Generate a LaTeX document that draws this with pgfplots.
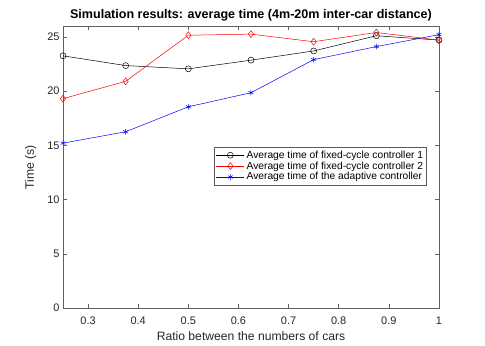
\documentclass[border=0pt]{standalone}
\usepackage{pgfplots}
\pgfplotsset{compat=1.18}
\usepackage{fontspec}
\setmainfont{Liberation Sans}
\definecolor{axgray}{RGB}{38,38,38}
\definecolor{mred}{RGB}{255,0,0}
\definecolor{mblue}{RGB}{0,0,255}
\begin{document}
\begin{tikzpicture}
\begin{axis}[
  scale only axis,width=376bp,height=282bp,
  xmin=0.25,xmax=1,ymin=0,ymax=26,
  xtick={0.3,0.4,...,0.9,1},
  xticklabels={0.3,0.4,0.5,0.6,0.7,0.8,0.9,1},
  ytick={0,5,...,25},
  tick align=inside,
  major tick length=4bp,
  axis line style={gray!75!black,line width=0.6pt},
  every tick/.style={gray!75!black,line width=0.5pt},
  tick label style={font=\fontsize{11}{13}\selectfont,text=axgray},
  xticklabel style={yshift=-5bp},
  /pgf/number format/assume math mode=true,
  xlabel={Ratio between the numbers of cars},
  ylabel={Time (s)},
  label style={font=\fontsize{12.2}{14}\selectfont,text=axgray},
  xlabel style={yshift=-1bp},
  ylabel style={yshift=4bp},
  title={\textbf{Simulation results: average time (4m-20m inter-car distance)}},
  title style={font=\fontsize{12.6}{14}\selectfont,yshift=-5bp},
  legend style={at={(0.968,0.571)},anchor=north east,draw=gray!70!black,
    font=\fontsize{10.3}{11.5}\selectfont,text=black,row sep=-2bp,
    inner sep=1.5bp,line width=0.5pt},
  legend cell align=left,
  legend image code/.code={%
    \draw[mark repeat=2,mark phase=2] plot coordinates {(0bp,0bp) (14bp,0bp) (28bp,0bp)};},
]
\addplot[black,line width=0.5pt,mark=o,mark size=3bp,mark options={solid}] coordinates {
  (0.25,23.25) (0.375,22.35) (0.5,22.05) (0.625,22.85) (0.75,23.7) (0.875,25.1) (1,24.7)
};
\addlegendentry{Average time of fixed-cycle controller 1}
\addplot[mred,line width=0.5pt,mark=diamond,mark size=3.5bp,mark options={solid}] coordinates {
  (0.25,19.3) (0.375,20.9) (0.5,25.15) (0.625,25.25) (0.75,24.55) (0.875,25.4) (1,24.7)
};
\addlegendentry{Average time of fixed-cycle controller 2}
\addplot[mblue,line width=0.5pt,mark=asterisk,mark size=2.8bp,mark options={solid}] coordinates {
  (0.25,15.2) (0.375,16.25) (0.5,18.55) (0.625,19.85) (0.75,22.9) (0.875,24.1) (1,25.2)
};
\addlegendentry{Average time of the adaptive controller}
\end{axis}
\useasboundingbox (-63bp,-38bp) rectangle (422bp,308bp);
\end{tikzpicture}
\end{document}
